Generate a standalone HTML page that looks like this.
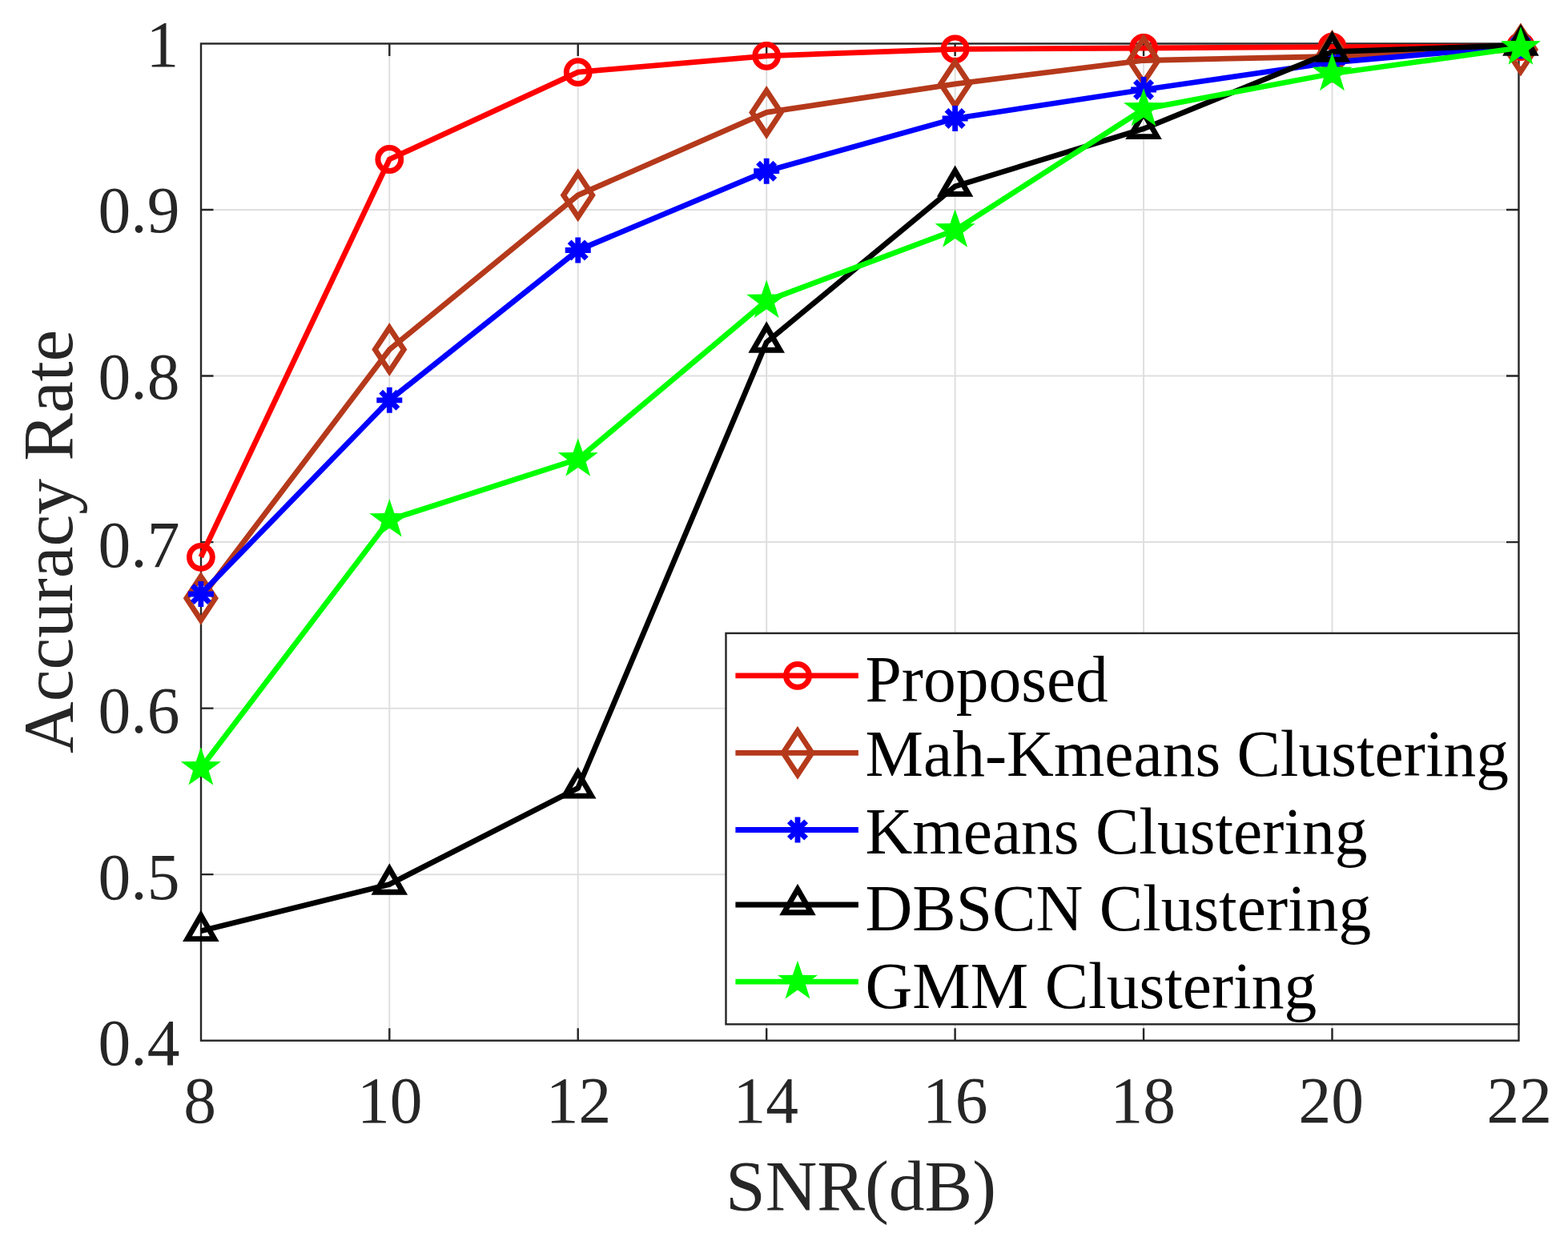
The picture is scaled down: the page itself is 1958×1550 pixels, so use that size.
<!DOCTYPE html>
<html><head><meta charset="utf-8"><title>Accuracy Rate vs SNR</title><style>html,body{margin:0;padding:0;background:#fff;width:1958px;height:1550px;overflow:hidden}</style></head><body>
<svg width="1958" height="1550" viewBox="0 0 1958 1550" style="display:block">
<rect width="1958" height="1550" fill="#ffffff"/>
<path d="M486.30 54.5V1299.7M721.74 54.5V1299.7M957.18 54.5V1299.7M1192.62 54.5V1299.7M1428.06 54.5V1299.7M1663.50 54.5V1299.7M251.0 1092.17H1896.5M251.0 884.63H1896.5M251.0 677.10H1896.5M251.0 469.57H1896.5M251.0 262.03H1896.5" stroke="#dfdfdf" stroke-width="2" fill="none"/>
<path d="M486.30 1299.7v-15.5M486.30 54.5v15.5M721.74 1299.7v-15.5M721.74 54.5v15.5M957.18 1299.7v-15.5M957.18 54.5v15.5M1192.62 1299.7v-15.5M1192.62 54.5v15.5M1428.06 1299.7v-15.5M1428.06 54.5v15.5M1663.50 1299.7v-15.5M1663.50 54.5v15.5M251.0 1092.17h15.5M1896.5 1092.17h-15.5M251.0 884.63h15.5M1896.5 884.63h-15.5M251.0 677.10h15.5M1896.5 677.10h-15.5M251.0 469.57h15.5M1896.5 469.57h-15.5M251.0 262.03h15.5M1896.5 262.03h-15.5" stroke="#262626" stroke-width="2.4" fill="none"/>
<rect x="251.0" y="54.5" width="1645.5" height="1245.2" stroke="#262626" stroke-width="2.4" fill="none"/>
<g font-family="Liberation Serif, Times New Roman, serif" font-size="81.5" fill="#262626">
<text x="182.49" y="83.00">1</text>
<text x="122.60" y="289.80">0.9</text>
<text x="122.60" y="497.65">0.8</text>
<text x="122.60" y="707.70">0.7</text>
<text x="122.60" y="915.20">0.6</text>
<text x="122.60" y="1122.70">0.5</text>
<text x="122.60" y="1330.20">0.4</text>
<text x="229.18" y="1401.8">8</text>
<text x="446.02" y="1401.8">10</text>
<text x="681.82" y="1401.8">12</text>
<text x="915.51" y="1401.8">14</text>
<text x="1152.08" y="1401.8">16</text>
<text x="1386.62" y="1401.8">18</text>
<text x="1621.41" y="1401.8">20</text>
<text x="1856.41" y="1401.8">22</text>
</g>
<text x="1075" y="1511.3" text-anchor="middle" font-family="Liberation Serif, Times New Roman, serif" font-size="89.5" fill="#262626">SNR(dB)</text>
<text transform="translate(89.5 676.3) rotate(-90)" x="0" y="0" text-anchor="middle" font-family="Liberation Serif, Times New Roman, serif" font-size="89.5" fill="#262626">Accuracy Rate</text>
<polyline points="250.86,695.80 486.30,199.00 721.74,90.10 957.18,69.80 1192.62,61.30 1428.06,60.00 1663.50,58.60 1898.94,58.00" fill="none" stroke="#ff0000" stroke-width="6.8" stroke-miterlimit="10"/>
<circle cx="250.86" cy="695.80" r="14.4" fill="none" stroke="#ff0000" stroke-width="7.0"/>
<circle cx="486.30" cy="199.00" r="14.4" fill="none" stroke="#ff0000" stroke-width="7.0"/>
<circle cx="721.74" cy="90.10" r="14.4" fill="none" stroke="#ff0000" stroke-width="7.0"/>
<circle cx="957.18" cy="69.80" r="14.4" fill="none" stroke="#ff0000" stroke-width="7.0"/>
<circle cx="1192.62" cy="61.30" r="14.4" fill="none" stroke="#ff0000" stroke-width="7.0"/>
<circle cx="1428.06" cy="60.00" r="14.4" fill="none" stroke="#ff0000" stroke-width="7.0"/>
<circle cx="1663.50" cy="58.60" r="14.4" fill="none" stroke="#ff0000" stroke-width="7.0"/>
<circle cx="1898.94" cy="58.00" r="14.4" fill="none" stroke="#ff0000" stroke-width="7.0"/>
<polyline points="250.86,747.30 486.30,436.60 721.74,243.80 957.18,140.40 1192.62,104.80 1428.06,75.50 1663.50,70.50 1898.94,62.00" fill="none" stroke="#b5391b" stroke-width="6.8" stroke-miterlimit="10"/>
<path d="M250.86 720.00L268.86 747.30L250.86 774.60L232.86 747.30Z" fill="none" stroke="#b5391b" stroke-width="6.8" stroke-miterlimit="10"/>
<path d="M486.30 409.30L504.30 436.60L486.30 463.90L468.30 436.60Z" fill="none" stroke="#b5391b" stroke-width="6.8" stroke-miterlimit="10"/>
<path d="M721.74 216.50L739.74 243.80L721.74 271.10L703.74 243.80Z" fill="none" stroke="#b5391b" stroke-width="6.8" stroke-miterlimit="10"/>
<path d="M957.18 113.10L975.18 140.40L957.18 167.70L939.18 140.40Z" fill="none" stroke="#b5391b" stroke-width="6.8" stroke-miterlimit="10"/>
<path d="M1192.62 77.50L1210.62 104.80L1192.62 132.10L1174.62 104.80Z" fill="none" stroke="#b5391b" stroke-width="6.8" stroke-miterlimit="10"/>
<path d="M1428.06 48.20L1446.06 75.50L1428.06 102.80L1410.06 75.50Z" fill="none" stroke="#b5391b" stroke-width="6.8" stroke-miterlimit="10"/>
<path d="M1663.50 43.20L1681.50 70.50L1663.50 97.80L1645.50 70.50Z" fill="none" stroke="#b5391b" stroke-width="6.8" stroke-miterlimit="10"/>
<path d="M1898.94 34.70L1916.94 62.00L1898.94 89.30L1880.94 62.00Z" fill="none" stroke="#b5391b" stroke-width="6.8" stroke-miterlimit="10"/>
<polyline points="250.86,742.00 486.30,499.80 721.74,312.50 957.18,213.70 1192.62,148.00 1428.06,112.00 1663.50,78.00 1898.94,57.50" fill="none" stroke="#0000ff" stroke-width="6.8" stroke-miterlimit="10"/>
<path d="M234.86 742.00H266.86M250.86 726.00V758.00M240.25 731.39L261.47 752.61M240.25 752.61L261.47 731.39" fill="none" stroke="#0000ff" stroke-width="6.8"/>
<path d="M470.30 499.80H502.30M486.30 483.80V515.80M475.69 489.19L496.91 510.41M475.69 510.41L496.91 489.19" fill="none" stroke="#0000ff" stroke-width="6.8"/>
<path d="M705.74 312.50H737.74M721.74 296.50V328.50M711.13 301.89L732.35 323.11M711.13 323.11L732.35 301.89" fill="none" stroke="#0000ff" stroke-width="6.8"/>
<path d="M941.18 213.70H973.18M957.18 197.70V229.70M946.57 203.09L967.79 224.31M946.57 224.31L967.79 203.09" fill="none" stroke="#0000ff" stroke-width="6.8"/>
<path d="M1176.62 148.00H1208.62M1192.62 132.00V164.00M1182.01 137.39L1203.23 158.61M1182.01 158.61L1203.23 137.39" fill="none" stroke="#0000ff" stroke-width="6.8"/>
<path d="M1412.06 112.00H1444.06M1428.06 96.00V128.00M1417.45 101.39L1438.67 122.61M1417.45 122.61L1438.67 101.39" fill="none" stroke="#0000ff" stroke-width="6.8"/>
<path d="M1647.50 78.00H1679.50M1663.50 62.00V94.00M1652.89 67.39L1674.11 88.61M1652.89 88.61L1674.11 67.39" fill="none" stroke="#0000ff" stroke-width="6.8"/>
<path d="M1882.94 57.50H1914.94M1898.94 41.50V73.50M1888.33 46.89L1909.55 68.11M1888.33 68.11L1909.55 46.89" fill="none" stroke="#0000ff" stroke-width="6.8"/>
<polyline points="250.86,1162.80 486.30,1104.50 721.74,984.40 957.18,427.50 1192.62,232.70 1428.06,160.80 1663.50,64.60 1898.94,56.50" fill="none" stroke="#000000" stroke-width="6.8" stroke-miterlimit="10"/>
<path d="M250.86 1143.30L267.76 1172.55L233.96 1172.55Z" fill="none" stroke="#000000" stroke-width="6.8" stroke-miterlimit="10"/>
<path d="M486.30 1085.00L503.20 1114.25L469.40 1114.25Z" fill="none" stroke="#000000" stroke-width="6.8" stroke-miterlimit="10"/>
<path d="M721.74 964.90L738.64 994.15L704.84 994.15Z" fill="none" stroke="#000000" stroke-width="6.8" stroke-miterlimit="10"/>
<path d="M957.18 408.00L974.08 437.25L940.28 437.25Z" fill="none" stroke="#000000" stroke-width="6.8" stroke-miterlimit="10"/>
<path d="M1192.62 213.20L1209.52 242.45L1175.72 242.45Z" fill="none" stroke="#000000" stroke-width="6.8" stroke-miterlimit="10"/>
<path d="M1428.06 141.30L1444.96 170.55L1411.16 170.55Z" fill="none" stroke="#000000" stroke-width="6.8" stroke-miterlimit="10"/>
<path d="M1663.50 45.10L1680.40 74.35L1646.60 74.35Z" fill="none" stroke="#000000" stroke-width="6.8" stroke-miterlimit="10"/>
<path d="M1898.94 37.00L1915.84 66.25L1882.04 66.25Z" fill="none" stroke="#000000" stroke-width="6.8" stroke-miterlimit="10"/>
<polyline points="250.86,959.30 486.30,649.30 721.74,573.50 957.18,375.80 1192.62,287.50 1428.06,136.30 1663.50,92.00 1898.94,59.50" fill="none" stroke="#00ff00" stroke-width="6.8" stroke-miterlimit="10"/>
<polygon points="250.86,933.00 256.97,950.90 275.87,951.17 260.74,962.51 266.32,980.58 250.86,969.69 235.40,980.58 240.98,962.51 225.85,951.17 244.75,950.90" fill="#00ff00"/>
<polygon points="486.30,623.00 492.41,640.90 511.31,641.17 496.18,652.51 501.76,670.58 486.30,659.69 470.84,670.58 476.42,652.51 461.29,641.17 480.19,640.90" fill="#00ff00"/>
<polygon points="721.74,547.20 727.85,565.10 746.75,565.37 731.62,576.71 737.20,594.78 721.74,583.89 706.28,594.78 711.86,576.71 696.73,565.37 715.63,565.10" fill="#00ff00"/>
<polygon points="957.18,349.50 963.29,367.40 982.19,367.67 967.06,379.01 972.64,397.08 957.18,386.19 941.72,397.08 947.30,379.01 932.17,367.67 951.07,367.40" fill="#00ff00"/>
<polygon points="1192.62,261.20 1198.73,279.10 1217.63,279.37 1202.50,290.71 1208.08,308.78 1192.62,297.89 1177.16,308.78 1182.74,290.71 1167.61,279.37 1186.51,279.10" fill="#00ff00"/>
<polygon points="1428.06,110.00 1434.17,127.90 1453.07,128.17 1437.94,139.51 1443.52,157.58 1428.06,146.69 1412.60,157.58 1418.18,139.51 1403.05,128.17 1421.95,127.90" fill="#00ff00"/>
<polygon points="1663.50,65.70 1669.61,83.60 1688.51,83.87 1673.38,95.21 1678.96,113.28 1663.50,102.39 1648.04,113.28 1653.62,95.21 1638.49,83.87 1657.39,83.60" fill="#00ff00"/>
<polygon points="1898.94,33.20 1905.05,51.10 1923.95,51.37 1908.82,62.71 1914.40,80.78 1898.94,69.89 1883.48,80.78 1889.06,62.71 1873.93,51.37 1892.83,51.10" fill="#00ff00"/>
<rect x="906.5" y="790.9" width="990.0" height="488.4" fill="#ffffff" stroke="#262626" stroke-width="2.4"/>
<path d="M918.4 843.9H1071.9" stroke="#ff0000" stroke-width="6.8"/>
<circle cx="996.00" cy="843.90" r="14.4" fill="none" stroke="#ff0000" stroke-width="7.0"/>
<text x="1080.5" y="875.6" font-family="Liberation Serif, Times New Roman, serif" font-size="81.5" fill="#000000">Proposed</text>
<path d="M918.4 940.3H1071.9" stroke="#b5391b" stroke-width="6.8"/>
<path d="M996.00 913.00L1014.00 940.30L996.00 967.60L978.00 940.30Z" fill="none" stroke="#b5391b" stroke-width="6.8" stroke-miterlimit="10"/>
<text x="1080.5" y="969.4" font-family="Liberation Serif, Times New Roman, serif" font-size="81.5" fill="#000000">Mah-Kmeans Clustering</text>
<path d="M918.4 1036.5H1071.9" stroke="#0000ff" stroke-width="6.8"/>
<path d="M980.00 1036.50H1012.00M996.00 1020.50V1052.50M985.39 1025.89L1006.61 1047.11M985.39 1047.11L1006.61 1025.89" fill="none" stroke="#0000ff" stroke-width="6.8"/>
<text x="1080.5" y="1065.5" font-family="Liberation Serif, Times New Roman, serif" font-size="81.5" fill="#000000">Kmeans Clustering</text>
<path d="M918.4 1130H1071.9" stroke="#000000" stroke-width="6.8"/>
<path d="M996.00 1110.50L1012.90 1139.75L979.10 1139.75Z" fill="none" stroke="#000000" stroke-width="6.8" stroke-miterlimit="10"/>
<text x="1080.5" y="1161.6" font-family="Liberation Serif, Times New Roman, serif" font-size="81.5" fill="#000000">DBSCN Clustering</text>
<path d="M918.4 1226.1H1071.9" stroke="#00ff00" stroke-width="6.8"/>
<polygon points="996.00,1199.80 1002.11,1217.70 1021.01,1217.97 1005.88,1229.31 1011.46,1247.38 996.00,1236.49 980.54,1247.38 986.12,1229.31 970.99,1217.97 989.89,1217.70" fill="#00ff00"/>
<text x="1080.5" y="1258.5" font-family="Liberation Serif, Times New Roman, serif" font-size="81.5" fill="#000000">GMM Clustering</text>
</svg>
</body></html>
